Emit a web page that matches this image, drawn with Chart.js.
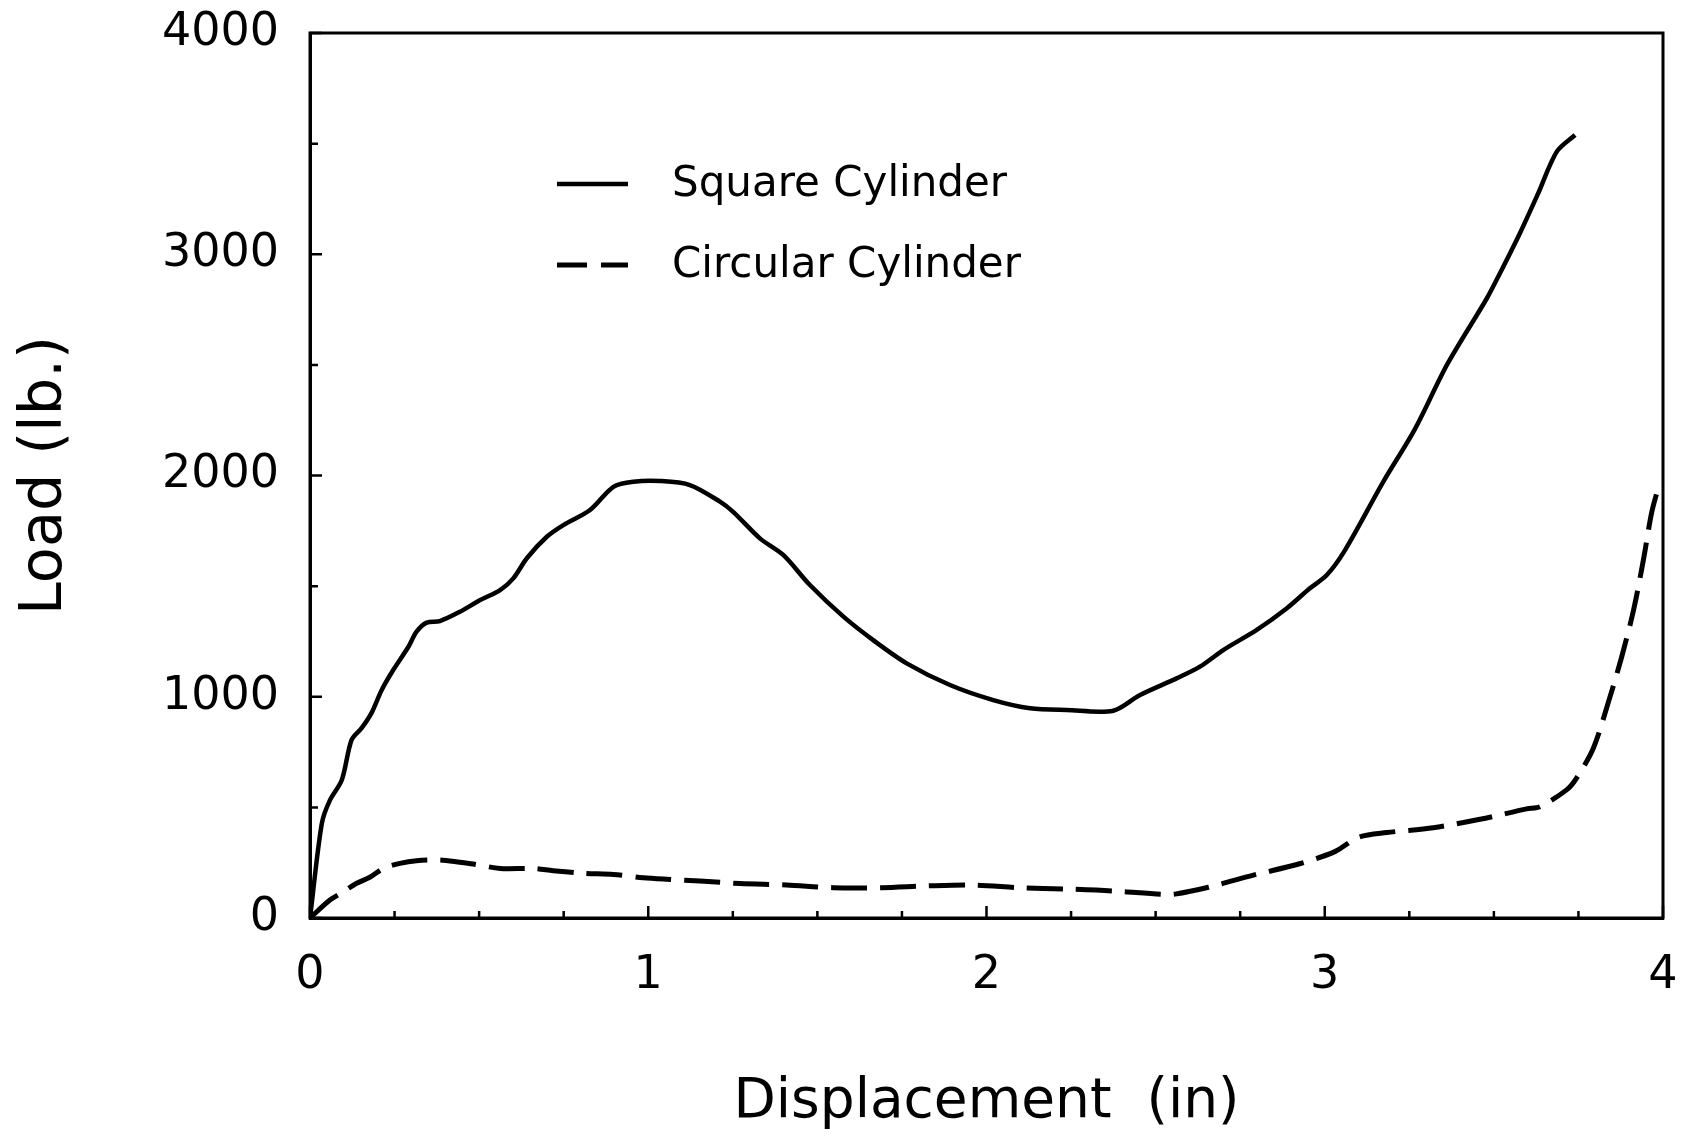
<!DOCTYPE html>
<html>
<head>
<meta charset="utf-8">
<script src="https://cdn.jsdelivr.net/npm/chart.js@4.4.1/dist/chart.umd.min.js"></script>
<style>
  html, body { margin: 0; padding: 0; background: #fff; }
  canvas { display: block; }
</style>
</head>
<body>
<canvas id="loadChart" width="1681" height="1141"></canvas>
<script>
// Square cylinder: displacement (in) and load (lb.)
const squareDisp = [0, 0.035, 0.059, 0.094, 0.123, 0.153, 0.182, 0.212, 0.246, 0.291, 0.315, 0.345, 0.384,
    0.443, 0.503, 0.562, 0.601, 0.641, 0.700, 0.749, 0.828, 0.897, 0.956, 1.035, 1.123, 1.212, 1.251,
    1.330, 1.399, 1.478, 1.577, 1.665, 1.764, 1.892, 2.020, 2.129, 2.237, 2.375, 2.454, 2.562, 2.631,
    2.700, 2.799, 2.888, 2.956, 3.006, 3.060, 3.172, 3.267, 3.362, 3.479, 3.518, 3.577, 3.631, 3.686, 3.740];
const squareLoad = [0, 428, 533, 624, 805, 859, 927, 1031, 1121, 1226, 1294, 1335, 1342,
    1384, 1437, 1482, 1535, 1626, 1723, 1776, 1844, 1949, 1972, 1975, 1957, 1882, 1836,
    1716, 1641, 1505, 1362, 1256, 1151, 1053, 985, 948, 940, 937, 1008, 1083, 1136,
    1211, 1302, 1400, 1490, 1550, 1663, 1969, 2211, 2502, 2800, 2914, 3095, 3275, 3464, 3539];

// Circular cylinder
const circularDisp = [0, 0.059, 0.099, 0.138, 0.177, 0.217, 0.266, 0.315, 0.384, 0.443, 0.483, 0.562,
    0.660, 0.719, 0.808, 0.897, 0.985, 1.054, 1.153, 1.271, 1.409, 1.547, 1.690, 1.823, 1.961, 2.099,
    2.237, 2.375, 2.518, 2.557, 2.656, 2.789, 2.923, 3.030, 3.100, 3.183, 3.321, 3.459, 3.597, 3.636,
    3.715, 3.744, 3.794, 3.839, 3.878, 3.913, 3.942, 3.967, 3.990];
const circularLoad = [0, 81, 119, 157, 184, 224, 247, 259, 262, 252, 244, 224,
    224, 214, 202, 197, 182, 175, 167, 156, 149, 137, 137, 145, 149, 137,
    131, 122, 107, 108, 139, 194, 244, 300, 365, 386, 408, 446, 493, 503,
    579, 631, 767, 978, 1181, 1392, 1618, 1836, 1965];

// inward tick marks
const xTickMarks = [0, 0.25, 0.5, 0.75, 1, 1.25, 1.5, 1.75, 2, 2.25, 2.5, 2.75, 3, 3.25, 3.5, 3.75, 4];
const yTickMarks = [0, 500, 1000, 1500, 2000, 2500, 3000, 3500, 4000];

const FONT = "'DejaVu Sans', sans-serif";

function toPoints(xs, ys) {
    return xs.map((x, i) => ({ x: x, y: ys[i] }));
}

// box around the plot plus the small inward ticks
const framePlugin = {
    id: "frame",
    afterDatasetsDraw(chart) {
        const { ctx, chartArea: a, scales } = chart;
        ctx.save();
        ctx.strokeStyle = "#000";
        ctx.lineWidth = 3;
        ctx.strokeRect(a.left, a.top, a.right - a.left, a.bottom - a.top);
        ctx.lineWidth = 2.5;
        ctx.beginPath();
        xTickMarks.forEach(v => {
            const px = scales.x.getPixelForValue(v);
            const len = Number.isInteger(v) ? 12 : 7;
            ctx.moveTo(px, a.bottom);
            ctx.lineTo(px, a.bottom - len);
        });
        yTickMarks.forEach(v => {
            const py = scales.y.getPixelForValue(v);
            const len = v % 1000 === 0 ? 12 : 8;
            ctx.moveTo(a.left, py);
            ctx.lineTo(a.left + len, py);
        });
        ctx.stroke();
        ctx.restore();
    }
};

// legend drawn inside the plot area
const legendPlugin = {
    id: "innerLegend",
    afterDraw(chart) {
        const { ctx } = chart;
        const rows = [184, 265];
        ctx.save();
        chart.data.datasets.forEach((ds, i) => {
            const y = rows[i];
            ctx.strokeStyle = "#000";
            ctx.lineWidth = ds.borderWidth;
            ctx.lineCap = "butt";
            ctx.setLineDash(ds.borderDash.length ? [30, 14] : []);
            ctx.beginPath();
            ctx.moveTo(557, y);
            ctx.lineTo(628, y);
            ctx.stroke();
            ctx.setLineDash([]);
            ctx.fillStyle = "#000";
            ctx.font = "42px " + FONT;
            ctx.textBaseline = "middle";
            ctx.fillText(ds.label, 672, y + 1);
        });
        ctx.restore();
    }
};

const ctx = document.getElementById("loadChart").getContext("2d");
new Chart(ctx, {
    type: "line",
    data: {
        datasets: [{
            label: "Square Cylinder",
            data: toPoints(squareDisp, squareLoad),
            borderColor: "#000",
            borderWidth: 4.5,
            borderDash: [],
            pointRadius: 0,
            tension: 0.3,
            fill: false
        }, {
            label: "Circular Cylinder",
            data: toPoints(circularDisp, circularLoad),
            borderColor: "#000",
            borderWidth: 5,
            borderDash: [36, 13],
            pointRadius: 0,
            tension: 0.3,
            fill: false
        }]
    },
    options: {
        responsive: false,
        animation: false,
        layout: { padding: { top: 33, right: 18, left: 0, bottom: 0 } },
        plugins: {
            legend: { display: false },
            tooltip: { enabled: false }
        },
        scales: {
            x: {
                type: "linear",
                min: 0,
                max: 4,
                afterFit: s => { s.height = 223; s.paddingLeft = 0; s.paddingRight = 0; },
                grid: { display: false, drawTicks: false },
                border: { display: true, color: "#000", width: 3 },
                ticks: {
                    stepSize: 1,
                    padding: 30,
                    color: "#000",
                    maxRotation: 0,
                    font: { family: FONT, size: 46 },
                    callback: v => String(v)
                },
                title: {
                    display: true,
                    text: "Displacement  (in)",
                    color: "#000",
                    font: { family: FONT, size: 55 },
                    padding: { top: 0, bottom: 5 }
                }
            },
            y: {
                min: 0,
                max: 4000,
                afterFit: s => { s.width = 310; s.paddingTop = 0; s.paddingBottom = 0; },
                grid: { display: false, drawTicks: false },
                border: { display: true, color: "#000", width: 3 },
                ticks: {
                    stepSize: 1000,
                    padding: 31,
                    color: "#000",
                    font: { family: FONT, size: 46 },
                    callback: v => String(v)
                },
                title: {
                    display: true,
                    text: "Load (lb.)",
                    color: "#000",
                    font: { family: FONT, size: 59 },
                    padding: { top: 10, bottom: 0 }
                }
            }
        }
    },
    plugins: [framePlugin, legendPlugin]
});
</script>
</body>
</html>
